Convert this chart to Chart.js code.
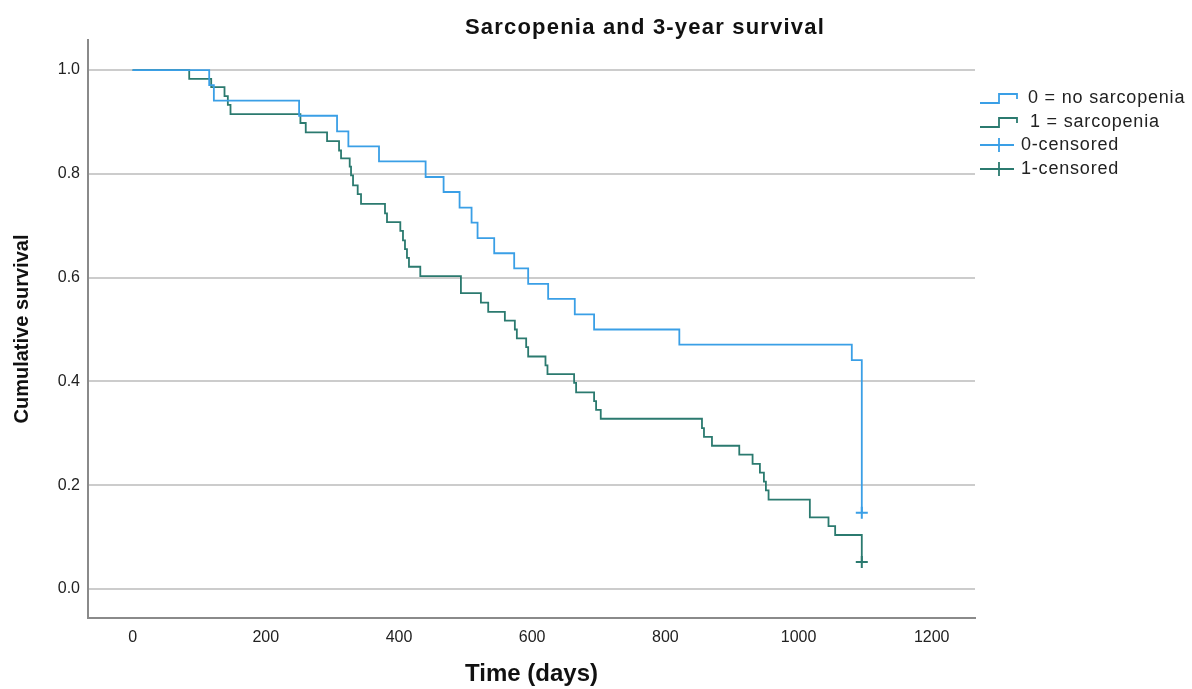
<!DOCTYPE html>
<html>
<head>
<meta charset="utf-8">
<title>Sarcopenia and 3-year survival</title>
<script src="https://cdn.jsdelivr.net/npm/chart.js@4.4.1/dist/chart.umd.min.js"></script>
<style>
  body { margin: 0; background: #fff; font-family: 'Liberation Sans', Arial, sans-serif; }
  #wrap { position: relative; width: 1192px; height: 689px; }
  #title { position: absolute; left: 395px; width: 500px; top: 15px; text-align: center;
           font-size: 22px; font-weight: bold; letter-spacing: 1.2px; color: #111; line-height: 24px; }
  #legend { position: absolute; left: 980px; top: 86px; font-size: 18px; color: #222; letter-spacing: 0.8px; }
  .row { position: relative; height: 23.5px; line-height: 23.5px; white-space: nowrap; }
  .row svg { position: absolute; left: 0; top: 2px; }
</style>
</head>
<body>
<div id="wrap">
  <canvas id="km" width="1192" height="689"></canvas>
  <div id="title">Sarcopenia and 3-year survival</div>
  <div id="legend"></div>
</div>
<script>
// Kaplan-Meier estimates
const noSarcTime = [0, 115, 122, 250, 307, 324, 370, 440, 467, 491, 509, 518, 543, 573, 594, 624, 664, 693, 821, 1080, 1095];
const noSarcSurv = [1.0, 0.971, 0.941, 0.912, 0.882, 0.853, 0.824, 0.794, 0.765, 0.735, 0.706, 0.676, 0.647, 0.618, 0.588, 0.559, 0.529, 0.500, 0.471, 0.441, 0.147];

const sarcTime = [0, 85, 118, 138, 143, 147, 252, 260, 292, 310, 313, 326, 328, 331, 338, 343, 379, 382, 402, 406, 409, 412, 415, 432,
  493, 523, 534, 559, 574, 577, 591, 594, 620, 623, 663, 666, 693, 696, 703, 855, 858, 870, 911, 931, 942, 948, 951, 955, 1017, 1045, 1055, 1095];
const sarcSurv = [1.0, 0.983, 0.967, 0.950, 0.933, 0.915, 0.898, 0.880, 0.863, 0.845, 0.830, 0.814, 0.797, 0.778, 0.761, 0.742, 0.724, 0.707, 0.690, 0.672, 0.655, 0.638, 0.621, 0.603,
  0.570, 0.552, 0.534, 0.517, 0.500, 0.483, 0.466, 0.448, 0.431, 0.414, 0.397, 0.379, 0.362, 0.345, 0.328, 0.310, 0.293, 0.276, 0.259, 0.241, 0.224, 0.207, 0.190, 0.172, 0.138, 0.121, 0.104, 0.052];

const censor0Time = [1095];
const censor0Surv = [0.147];
const censor1Time = [1095];
const censor1Surv = [0.052];

const xTicks = [0, 200, 400, 600, 800, 1000, 1200];
const yTicks = [0.0, 0.2, 0.4, 0.6, 0.8, 1.0];

const BLUE = '#3a9fe6';
const GREEN = '#2b7a6f';

const pts = (xs, ys) => xs.map((x, i) => ({ x, y: ys[i] }));

function buildLegend() {
  const items = [
    { label: '0 = no sarcopenia', color: BLUE, kind: 'step', textX: 48 },
    { label: '1 = sarcopenia', color: GREEN, kind: 'step', textX: 50 },
    { label: '0-censored', color: BLUE, kind: 'cross', textX: 41 },
    { label: '1-censored', color: GREEN, kind: 'cross', textX: 41 }
  ];
  const box = document.getElementById('legend');
  items.forEach(it => {
    const row = document.createElement('div');
    row.className = 'row';
    const icon = it.kind === 'step'
      ? `<svg width="40" height="20"><path d="M0 15 H19 V6 H37 V11" fill="none" stroke="${it.color}" stroke-width="1.8"/></svg>`
      : `<svg width="40" height="20"><path d="M0 10 H34 M19 3 V17" fill="none" stroke="${it.color}" stroke-width="1.8"/></svg>`;
    row.innerHTML = icon + `<span style="margin-left:${it.textX}px">${it.label}</span>`;
    box.appendChild(row);
  });
}

function initChart() {
  const ctx = document.getElementById('km');
  new Chart(ctx, {
    type: 'line',
    data: {
      datasets: [
        { label: '0 = no sarcopenia', data: pts(noSarcTime, noSarcSurv), borderColor: BLUE, borderWidth: 1.8, stepped: true, pointRadius: 0, fill: false },
        { label: '1 = sarcopenia', data: pts(sarcTime, sarcSurv), borderColor: GREEN, borderWidth: 1.8, stepped: true, pointRadius: 0, fill: false },
        { label: '0-censored', type: 'scatter', data: pts(censor0Time, censor0Surv), pointStyle: 'cross', pointRadius: 6, borderColor: BLUE, borderWidth: 2 },
        { label: '1-censored', type: 'scatter', data: pts(censor1Time, censor1Surv), pointStyle: 'cross', pointRadius: 6, borderColor: GREEN, borderWidth: 2 }
      ]
    },
    options: {
      responsive: false,
      animation: false,
      layout: { padding: { top: 40, right: 217, left: 0, bottom: 0 } },
      plugins: { legend: { display: false }, tooltip: { enabled: false } },
      scales: {
        x: {
          type: 'linear', min: -67, max: 1265,
          afterBuildTicks: s => { s.ticks = xTicks.map(v => ({ value: v })); },
          afterFit: s => { s.height = 71; },
          grid: { display: false, drawTicks: false },
          border: { display: true, color: '#8a8a8a', width: 2 },
          ticks: { padding: 10, color: '#222', font: { family: "'Liberation Sans'", size: 16 }, maxRotation: 0, callback: v => String(v) },
          title: { display: true, text: 'Time (days)', color: '#111', padding: { top: 0, bottom: 0 },
                   font: { family: "'Liberation Sans'", size: 24, weight: 'bold' } }
        },
        y: {
          type: 'linear', min: -0.056, max: 1.058,
          afterBuildTicks: s => { s.ticks = yTicks.map(v => ({ value: v })); },
          afterFit: s => { s.width = 88; },
          grid: { color: '#cccccc', lineWidth: 2, drawTicks: false },
          border: { display: true, color: '#8a8a8a', width: 2 },
          ticks: { padding: 8, color: '#222', font: { family: "'Liberation Sans'", size: 16 }, callback: v => v.toFixed(1) },
          title: { display: true, text: 'Cumulative survival', color: '#111', padding: { top: 10, bottom: 0 },
                   font: { family: "'Liberation Sans'", size: 20, weight: 'bold' } }
        }
      }
    }
  });
}

document.addEventListener('DOMContentLoaded', () => {
  buildLegend();
  initChart();
});
</script>
</body>
</html>
